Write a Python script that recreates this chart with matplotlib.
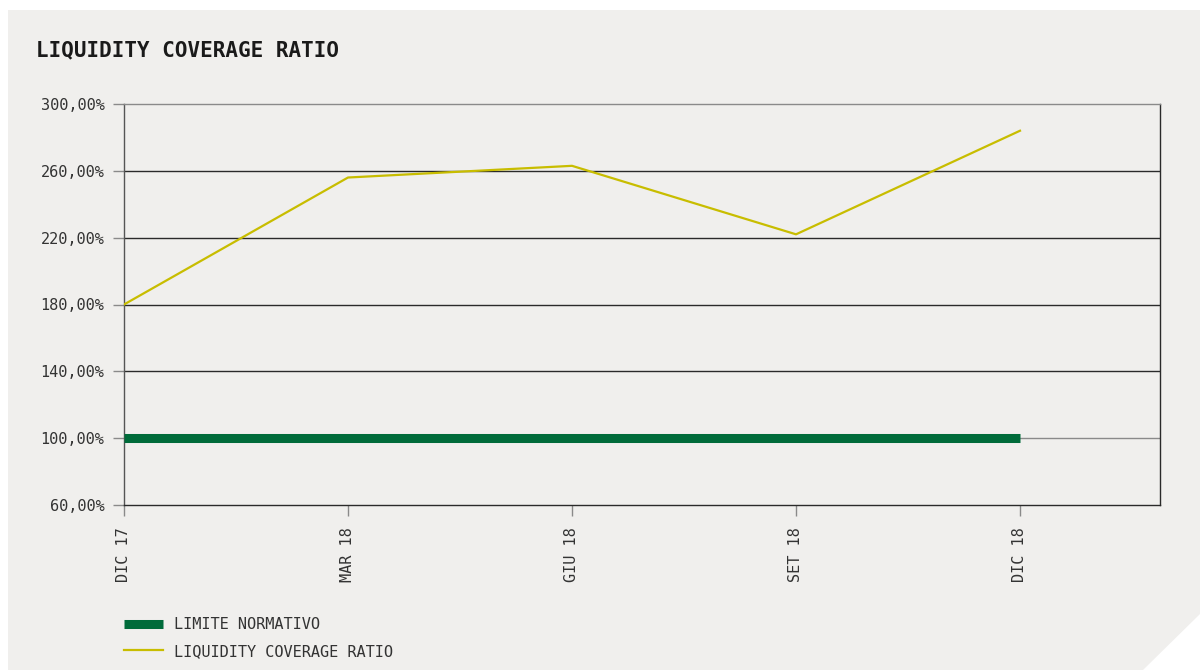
import matplotlib
matplotlib.use("Agg")
import matplotlib.pyplot as plt
from matplotlib.patches import Polygon
from matplotlib.lines import Line2D

periods = ["DIC 17", "MAR 18", "GIU 18", "SET 18", "DIC 18"]
lcr_values = [180, 256, 263, 222, 284]
limit_values = [100, 100, 100, 100, 100]
y_ticks = [60, 100, 140, 180, 220, 260, 300]

W, H = 1200, 670
fig = plt.figure(figsize=(W / 100, H / 100), dpi=100)
fig.patch.set_facecolor("white")

mono = ["DejaVu Sans Mono"]
bg = "#f0efed"
green = "#006b3a"
yellow = "#c8bd00"
dark = "#2a2a2a"
grey = "#8a8a8a"
text_col = "#333333"

# panel with a clipped bottom-right corner
panel = [(8, 10), (1200, 10), (1200, 614), (1143, 670), (8, 670)]
fig.patches.append(Polygon([(x / W, 1 - y / H) for x, y in panel], closed=True,
                           transform=fig.transFigure, facecolor=bg,
                           edgecolor="none", zorder=-10))

fig.text(36 / W, 1 - 50 / H, "LIQUIDITY COVERAGE RATIO", family=mono,
         fontsize=15, fontweight="bold", color="#1a1a1a", va="center", ha="left")

ax = fig.add_axes([124 / W, 1 - 505 / H, (1160 - 124) / W, (505 - 104) / H])
ax.set_facecolor(bg)
x = list(range(len(periods)))

ax.set_xlim(0, 4.625)
ax.set_ylim(60, 300)

for v in y_ticks:
    if v in (60, 300):
        continue
    ax.axhline(v, color=grey if v == 100 else dark, lw=1.0, zorder=1)

ax.plot(x, limit_values, color=green, lw=6.5, solid_capstyle="butt", zorder=3)
ax.plot(x, lcr_values, color=yellow, lw=1.6, zorder=4)

ax.spines["top"].set_color(grey)
ax.spines["left"].set_color("#555555")
ax.spines["right"].set_color(dark)
ax.spines["bottom"].set_color(dark)
for s in ax.spines.values():
    s.set_linewidth(1.0)

ax.set_yticks(y_ticks)
ax.set_yticklabels([f"{v},00%" for v in y_ticks], family=mono, fontsize=11, color=text_col)
ax.set_xticks(x)
ax.set_xticklabels(periods, rotation=90, family=mono, fontsize=11, color=text_col)
ax.tick_params(axis="y", length=8, width=1, color=grey, pad=6)
ax.tick_params(axis="x", length=8, width=1, color=grey, pad=8)

handles = [Line2D([], [], color=green, lw=6.5, solid_capstyle="butt"),
           Line2D([], [], color=yellow, lw=1.6)]
fig.legend(handles, ["LIMITE NORMATIVO", "LIQUIDITY COVERAGE RATIO"],
           loc="upper left", bbox_to_anchor=(112 / W, 1 - 605 / H),
           frameon=False, prop={"family": mono, "size": 11},
           handlelength=2.55, handletextpad=0.7, labelspacing=0.75,
           labelcolor=text_col, borderpad=0.3)

fig.savefig("out.png", dpi=100, facecolor=fig.get_facecolor())
